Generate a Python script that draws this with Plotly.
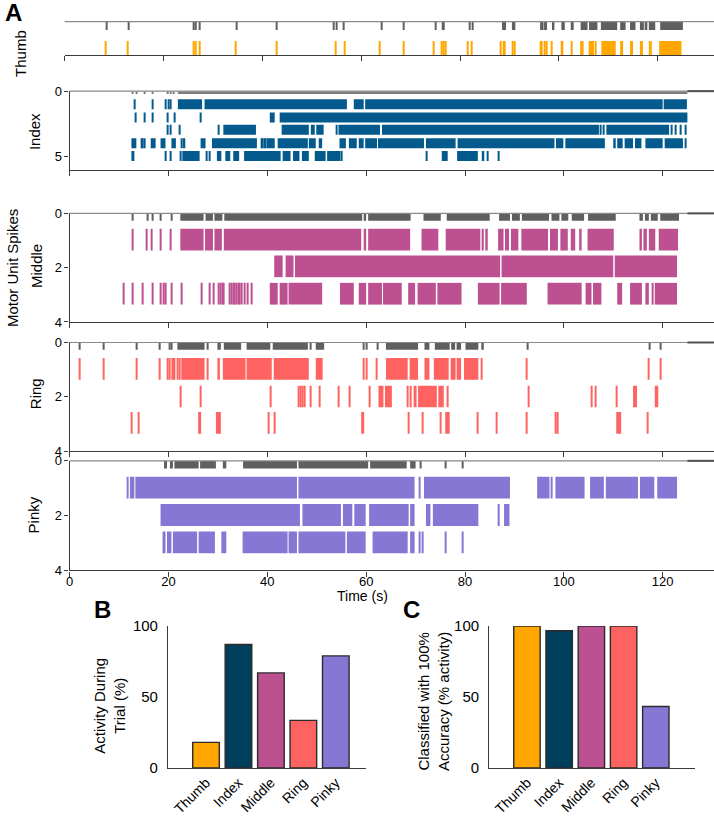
import plotly.graph_objects as go

# ---------------- data (seconds); a number = single spike, [a, b] = burst ----------------
THUMB_GRAY = [8.4, 12.8, 26.0, 26.5, 27.2, 34.6, 42.8, 54.4, 55.0, 56.4, 64.0, 68.5, 74.9, [76.3, 76.9],
              81.8, 82.4, [88.5, 89.3], [90.5, 91.2], [96.2, 96.9], [97.0, 97.6], [98.6, 99.1],
              [100.5, 101.2], [102.4, 103.0], [104.4, 105.8], [106.1, 107.8], [108.5, 111.8],
              [112.4, 113.5], [114.4, 115.5], [116.4, 117.2], [117.5, 117.9], [118.2, 119.5], [120.5, 125.1]]
THUMB_1 = [8.2, 12.6, 25.9, 26.5, 27.2, 34.5, 42.7, 54.7, 56.5, 63.6, 68.5, 74.6, 76.1, 76.5, 76.9,
           81.5, 82.3, [88.1, 88.4], 88.7, 89.0, 90.5, 90.9, 96.2, 96.5, 97.0, 97.4, 98.4, [100.5, 100.9],
           102.4, [104.3, 105.0], 106.1, 106.3, 106.6, [106.8, 107.1], 107.4, [108.6, 111.5],
           [112.4, 113.0], [114.4, 115.0], [116.4, 117.0], [118.2, 118.8], [120.3, 124.8]]

INDEX_GRAY = [12.7, 13.4, 15.1, 16.7, 19.7, 20.4, 20.9, [21.9, 125.0]]
INDEX_1 = [13.0, 16.6, 19.4, 19.9, 20.4, [21.9, 26.8], [27.3, 56.1], [57.5, 59.5], [59.8, 120.0], [120.2, 124.9]]
INDEX_2 = [13.2, 15.1, 16.7, 19.7, 21.1, 26.5, [40.5, 41.5], [42.5, 125.0]]
INDEX_3 = [19.7, 20.4, 22.1, 30.1, [31.1, 37.7], [42.9, 48.4], [48.8, 49.6], [49.9, 51.4], 54.0,
           [54.4, 62.8], [63.2, 107.1], 107.3, 107.9, [108.6, 121.3], 121.7, 122.6, 123.5, 124.5]
INDEX_4 = [[12.5, 13.5], 14.4, 14.7, 15.1, [16.4, 17.4], [18.4, 19.4], [20.6, 21.5], 22.6, [22.9, 23.4],
           [26.5, 27.5], [28.8, 37.9], 38.7, 39.0, 39.3, 39.6, [39.9, 41.5], [42.1, 48.2], [48.4, 49.8],
           [50.4, 51.1], [54.6, 55.9], [56.5, 58.1], [58.5, 59.5], [59.8, 62.2], [62.4, 71.7], [72.1, 78.1],
           [78.5, 98.1], [98.4, 99.9], [100.3, 108.3], [110.0, 110.5], [110.8, 111.9], [112.3, 114.0],
           [114.4, 115.7], [116.5, 120.0], [120.4, 124.1], 124.6]
INDEX_5 = [[12.5, 13.1], 19.4, 20.4, 22.3, [22.8, 26.3], 27.6, 28.3, [29.8, 30.7], [31.5, 32.5], [33.1, 34.3],
           [35.3, 42.7], [43.1, 44.7], [45.2, 46.5], [47.0, 48.4], [49.6, 51.8], [52.1, 54.8], 55.0,
           72.2, [75.3, 76.5], [78.4, 82.6], [83.4, 83.9], 84.4, 86.7]

MIDDLE_GRAY = [12.7, 15.6, 16.6, 18.4, 20.5, [22.4, 27.1], [27.5, 29.0], [29.3, 30.9], [31.3, 59.2],
               [59.5, 60.0], [60.4, 69.0], [71.6, 75.1], [76.3, 85.0], [86.9, 89.1], [89.5, 91.1],
               [91.5, 97.0], [97.5, 99.1], [99.5, 100.9], [101.6, 104.1], [104.9, 110.5], [115.3, 116.0],
               [116.4, 117.2], [117.6, 119.0], [119.5, 123.3]]
MIDDLE_1 = [12.7, 15.4, 16.4, 18.4, 20.4, [22.4, 27.1], [27.4, 29.0], [29.3, 30.8], [31.2, 59.0],
            [59.5, 60.0], [60.4, 68.9], [71.2, 74.6], [76.1, 83.1], [83.4, 83.8], [84.1, 84.6],
            [86.7, 87.8], [88.1, 88.9], [89.3, 90.8], [91.4, 96.8], [97.2, 98.8], [99.3, 100.8],
            [101.4, 102.3], [103.1, 103.6], [104.8, 110.1], [115.3, 115.8], [116.1, 116.8],
            [117.2, 118.5], [119.2, 123.1]]
MIDDLE_2 = [[41.4, 43.1], [43.7, 45.3], [45.6, 87.1], [87.4, 110.0], [110.3, 122.9]]
MIDDLE_3 = [10.9, 12.7, 14.7, 16.7, 18.4, 18.9, 19.4, 20.6, 22.6, 26.6, 28.3, 29.1, 30.0, 30.4, 30.8, 31.1,
            32.3, 32.7, 33.0, 33.3, 33.6, 34.0, 34.3, 34.7, 35.3, 36.0, 36.7, [40.5, 42.1], [42.5, 44.1],
            [44.3, 51.1], [54.7, 57.5], [58.5, 60.0], [60.4, 63.2], [63.4, 67.2], [68.5, 69.9],
            [70.4, 74.1], [74.4, 79.3], [82.6, 87.0], [87.3, 92.5], [96.7, 103.6], [104.4, 105.6],
            [105.9, 107.6], [110.8, 111.8], [113.4, 115.8], [116.5, 117.2], 117.9, [118.4, 122.9]]

RING_GRAY = [1.9, 6.7, 13.4, 18.2, 20.2, 20.6, [21.8, 27.3], 27.8, [29.9, 30.6], [31.2, 34.7], [35.8, 40.6],
             [41.1, 48.2], 48.6, [49.8, 51.5], 59.3, 59.9, 62.2, [64.0, 70.5], [71.8, 72.8], [73.9, 76.9],
             [77.2, 78.0], [78.3, 79.2], [80.1, 82.7], [83.3, 83.8], 92.5, 117.2, 119.4]
RING_1 = [1.9, 6.7, 13.4, 18.2, 19.8, 20.2, [20.6, 21.4], 21.8, 22.1, [22.6, 27.3], 27.8, [29.9, 30.4],
          [31.0, 35.6], [35.8, 40.9], [41.3, 48.4], [49.8, 51.2], 59.3, 59.9, 62.0, [64.0, 68.4],
          [68.8, 70.5], [71.8, 72.8], [73.7, 76.7], [77.1, 78.1], [78.3, 79.2], [79.8, 82.7], 83.3,
          92.3, 117.1, 119.4]
RING_2 = [22.3, 26.4, 40.5, 46.3, 46.7, 47.1, 47.5, 48.7, 50.5, 54.4, 56.5, 60.6, [62.5, 63.5],
          [63.8, 65.2], 68.2, 68.9, [69.8, 70.2], [70.5, 74.3], [74.6, 75.7], 76.4, 92.8, 105.5, 106.4,
          110.6, [114.0, 114.8], [118.4, 119.1]]
RING_3 = [12.5, 13.8, [26.0, 26.6], [29.6, 30.6], 40.2, 41.3, [59.0, 59.6], 68.4, 71.4, 75.0, [76.0, 76.9],
          82.4, 86.3, 92.3, 98.2, 98.7, [110.6, 111.6], 116.8]

PINKY_GRAY = [[19.1, 19.7], [20.3, 20.9], [21.2, 26.1], [26.4, 29.6], [31.0, 31.7], [35.1, 46.0],
              [46.3, 60.4], [60.8, 68.2], [68.9, 70.0], 70.9, 76.0, 79.4]
PINKY_1 = [11.7, [12.2, 13.1], [13.3, 46.0], [46.3, 69.8], 70.7, [71.7, 89.1], [94.6, 97.1], 97.5,
           [98.3, 104.2], [105.3, 108.1], [108.5, 115.0], [115.4, 118.3], [118.9, 122.9]]
PINKY_2 = [[18.4, 46.6], [47.1, 54.9], [55.3, 57.2], [57.6, 59.9], [60.6, 68.6], [68.9, 69.8],
           [72.1, 73.0], [73.5, 82.7], 86.8, [87.9, 89.0]]
PINKY_3 = [[18.8, 19.4], [19.7, 20.6], [20.9, 25.8], [26.1, 29.4], [30.7, 31.7], [35.0, 44.1], [44.3, 46.0],
           [46.3, 55.8], [56.1, 59.9], [61.3, 68.4], [68.9, 69.8], 70.7, 71.4, 76.0, 79.4]

FINGERS = ["Thumb", "Index", "Middle", "Ring", "Pinky"]
ACTIVITY_PCT = [18, 87, 67, 33.5, 79]
CLASSIFIED_PCT = [100, 96.7, 100, 100, 43.3]
TIME_TICKS = [0, 20, 40, 60, 80, 100, 120]

# ---------------- styling ----------------
W, H = 714, 817
FONT = "Arial, Liberation Sans, sans-serif"
GRAY = "#5f5f5f"
BAR_COLORS = ["#FFA600", "#003F5C", "#BC5090", "#FF6361", "#8677D4"]
RASTER_COLORS = ["#FFA600", "#045A8D", "#BC5090", "#FF6361", "#8677D4"]
SPIKE = 0.22
AX = "#3a3a3a"


def xd(a, b):
    return [a / W, min(b / W, 1.0)]


def yd(top, bot):
    return [1 - bot / H, 1 - top / H]


fig = go.Figure()


def add_row(events, yc, h, color, ax):
    starts, durs = [], []
    for e in events:
        if isinstance(e, (list, tuple)):
            a, b = e
        else:
            a, b = e, e + SPIKE
        starts.append(a)
        durs.append(b - a)
    fig.add_trace(go.Bar(x=durs, base=starts, y=[yc] * len(starts), orientation="h", width=h,
                         marker=dict(color=color, line=dict(width=0)),
                         xaxis="x" + ax, yaxis="y" + ax, showlegend=False, hoverinfo="skip"))


panels = [
    ("", THUMB_GRAY, [THUMB_1], [0.79], 0.42, 0.13, 0.24, (61, 714), (13, 47), [1, 0], [], RASTER_COLORS[0], GRAY),
    ("2", INDEX_GRAY, [INDEX_1, INDEX_2, INDEX_3, INDEX_4, INDEX_5], [1, 2, 2.95, 3.97, 4.95], 0.76, 0.11, 0.22,
     (66, 714), (84, 164.5), [6.0, 0], [0, 5], RASTER_COLORS[1], "#7c7c7c"),
    ("3", MIDDLE_GRAY, [MIDDLE_1, MIDDLE_2, MIDDLE_3], [0.97, 1.95, 2.96], 0.8, 0.135, 0.27,
     (66, 714), (209, 320), [4, 0], [0, 2, 4], RASTER_COLORS[2], GRAY),
    ("4", RING_GRAY, [RING_1, RING_2, RING_3], [0.97, 1.99, 2.96], 0.8, 0.135, 0.27,
     (66, 714), (341, 452), [4, 0], [0, 2, 4], RASTER_COLORS[3], GRAY),
    ("5", PINKY_GRAY, [PINKY_1, PINKY_2, PINKY_3], [0.98, 1.98, 2.98], 0.8, 0.14, 0.28,
     (66, 714), (462, 574), [4, 0], [0, 2, 4], RASTER_COLORS[4], GRAY),
]

layout = dict(width=W, height=H, margin=dict(l=0, r=0, t=0, b=0), autosize=False,
              plot_bgcolor="white", paper_bgcolor="white", barmode="overlay",
              font=dict(family=FONT, size=13, color="black"), showlegend=False)
shapes = []

for ax, grow, rows, ycs, h, gyc, gh, xpx, ypx, yr, yt, col, gcol in panels:
    add_row(grow, gyc, gh, gcol, ax)
    for r, yc in zip(rows, ycs):
        add_row(r, yc, h, col, ax)
    xmax = (714 - xpx[0]) / 4.97
    last = (ax == "5")
    layout["xaxis" + ax] = dict(domain=xd(*xpx), range=[0, xmax], anchor="y" + ax, showline=True,
                                linecolor=AX, linewidth=1.3, ticks="outside", ticklen=5, tickwidth=1.2,
                                tickcolor=AX, tickvals=TIME_TICKS, showticklabels=last,
                                ticklabelstandoff=-6 if last else 0,
                                tickfont=dict(size=13), showgrid=False, zeroline=False)
    layout["yaxis" + ax] = dict(domain=yd(*ypx), range=yr, anchor="x" + ax, showline=(ax != ""),
                                linecolor=AX, linewidth=1.3, ticks="outside" if yt else "", ticklen=4,
                                tickwidth=1.2, tickcolor=AX, tickvals=yt, showticklabels=bool(yt),
                                tickfont=dict(size=13), showgrid=False, zeroline=False)
    shapes.append(dict(type="line", xref="x" + ax + " domain", yref="y" + ax + " domain",
                       x0=0, x1=1, y0=1, y1=1, line=dict(color="#8a8a8a", width=1.2)))
    if ax != "":
        shapes.append(dict(type="line", xref="x" + ax, yref="y" + ax + " domain",
                           x0=125, x1=xmax, y0=1, y1=1, line=dict(color="#505050", width=2)))

# ---------------- bar panels B and C ----------------
for ax, vals, xpx, xr in [("6", ACTIVITY_PCT, (165, 364), [-1.17, 4.93]),
                          ("7", CLASSIFIED_PCT, (488, 695), [-1.17, 5.22])]:
    fig.add_trace(go.Bar(x=FINGERS, y=vals, width=0.82,
                         marker=dict(color=BAR_COLORS, line=dict(color="#2b2b2b", width=1.4)),
                         xaxis="x" + ax, yaxis="y" + ax, showlegend=False, hoverinfo="skip"))
    layout["xaxis" + ax] = dict(domain=xd(*xpx), range=xr, type="category", anchor="y" + ax,
                                showline=True, linecolor=AX, linewidth=1.3, ticks="", tickangle=-45,
                                tickfont=dict(size=14), showgrid=False, zeroline=False)
    layout["yaxis" + ax] = dict(domain=yd(631, 776), range=[0, 100], anchor="x" + ax, showline=True,
                                linecolor=AX, linewidth=1.3, ticks="", tickvals=[0, 50, 100],
                                ticklabelstandoff=6, tickfont=dict(size=15), showgrid=False,
                                zeroline=False)


def ann(text, px, py, size=15, angle=0, bold=False, xanchor="center"):
    return dict(text=("<b>%s</b>" % text) if bold else text, x=px / W, y=1 - py / H, xref="paper",
                yref="paper", showarrow=False, textangle=angle, xanchor=xanchor, yanchor="middle",
                font=dict(size=size, family=FONT, color="black"))


annotations = [
    ann("A", 10, 4, size=24, bold=True),
    ann("B", 99, 614, size=24, bold=True),
    ann("C", 410, 614, size=24, bold=True),
    ann("Thumb", 16, 45, angle=-90),
    ann("Index", 30, 125, angle=-90),
    ann("Middle", 32, 263, angle=-90),
    ann("Ring", 32, 393, angle=-90),
    ann("Pinky", 30, 517, angle=-90),
    ann("Motor Unit Spikes", 8, 265, angle=-90, size=15),
    ann("Time (s)", 361, 600, size=14),
    ann("Activity During<br>Trial (%)", 106, 712, angle=-90),
    ann("Classified with 100%<br>Accuracy (% activity)", 432, 708, angle=-90),
]

layout["shapes"] = shapes
layout["annotations"] = annotations
fig.update_layout(**layout)
fig.write_html("out.html", config={"displayModeBar": False},
               post_script="document.body.style.margin='0';document.body.style.overflow='hidden';"
                           "document.documentElement.style.overflow='hidden';")
